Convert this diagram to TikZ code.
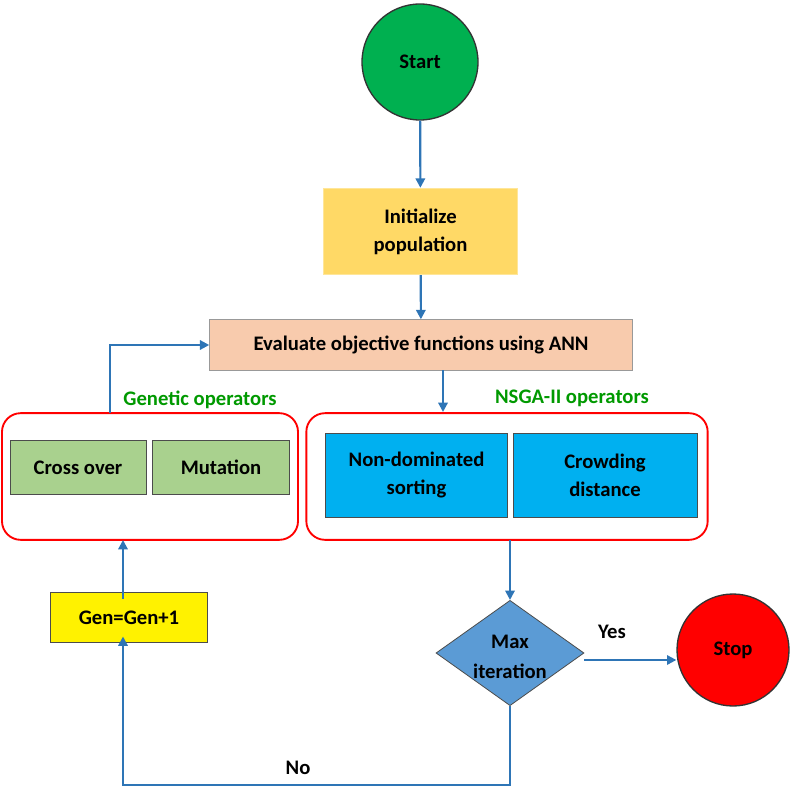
\documentclass[tikz,border=0pt]{standalone}
\usepackage{fontspec}
\setmainfont{Carlito}
\usetikzlibrary{shapes.geometric,arrows.meta}
\definecolor{arr}{RGB}{46,117,182}
\begin{document}
\begin{tikzpicture}[x=0.75pt,y=-0.75pt,
  every node/.style={font=\fontsize{15.5}{17}\selectfont\bfseries, align=center, inner sep=0pt},
  box/.style={draw=black!70, line width=0.6pt},
  con/.style={draw=arr, line width=1.6pt},
  arw/.style={con,-{Triangle[length=7pt,width=7pt]}},
  grp/.style={draw=red, line width=1.4pt, rounded corners=14pt},
  lbl/.style={text=green!60!black}]
\useasboundingbox (0,0) rectangle (798,791);
\node[circle, draw=black!80, line width=1pt, fill={rgb,255:red,0;green,176;blue,80}, minimum size=87] (start) at (420,62) {Start};
\node[box, draw={rgb,255:red,255;green,230;blue,153}, fill={rgb,255:red,255;green,217;blue,102}, minimum width=146, minimum height=65] (init) at (420.5,231.5) {Initialize\\[4pt]population};
\node[box, draw=black!40, fill={rgb,255:red,248;green,203;blue,173}, minimum width=317, minimum height=38] (eval) at (421,345) {Evaluate objective functions using ANN};
\node[grp, minimum width=222, minimum height=95] (lg) at (150,476.5) {};
\node[grp, minimum width=301, minimum height=95] (rg) at (507,476.5) {};
\node[box, fill={rgb,255:red,169;green,209;blue,142}, minimum width=102, minimum height=41] (co) at (78,467.5) {Cross over};
\node[box, fill={rgb,255:red,169;green,209;blue,142}, minimum width=103, minimum height=41] (mu) at (221,467.5) {Mutation};
\node[box, fill={rgb,255:red,0;green,176;blue,240}, minimum width=137, minimum height=63] (nd) at (416.5,475) {Non-dominated\\[4pt]sorting};
\node[box, fill={rgb,255:red,0;green,176;blue,240}, minimum width=138, minimum height=63] (cd) at (605,475) {Crowding\\[4pt]distance};
\node[lbl] (gl) at (200,400) {Genetic operators};
\node[lbl] (nl) at (572,398) {NSGA-II operators};
\node[box, fill=yellow, minimum width=118, minimum height=38] (gen) at (129,617.5) {Gen=Gen+1};
\node[diamond, box, fill={rgb,255:red,91;green,155;blue,213}, minimum width=111, minimum height=79, aspect=1.4] (dia) at (510,653) {};
\node at (510,657) {Max\\[5pt]iteration};
\node[circle, draw=black!80, line width=1pt, fill=red, minimum size=84] (stop) at (733,650) {Stop};
\node (yes) at (612,632) {Yes};
\node (no) at (298,768) {No};
\coordinate (ys) at (584,660);
\draw[arw] (start) -- (init);
\draw[arw] (init) -- (eval);
\draw[arw] (443,370) -- (443,412);
\draw[arw] (110,413) |- (eval.west);
\draw[arw] (123,598.5) -- (123,540);
\draw[arw] (510,540) -- (dia.north);
\draw[arw] (ys) -- (ys -| stop.west);
\draw[arw] (dia.south) -- (510,785) -- (123,785) -- (123,636.5);
\end{tikzpicture}
\end{document}
